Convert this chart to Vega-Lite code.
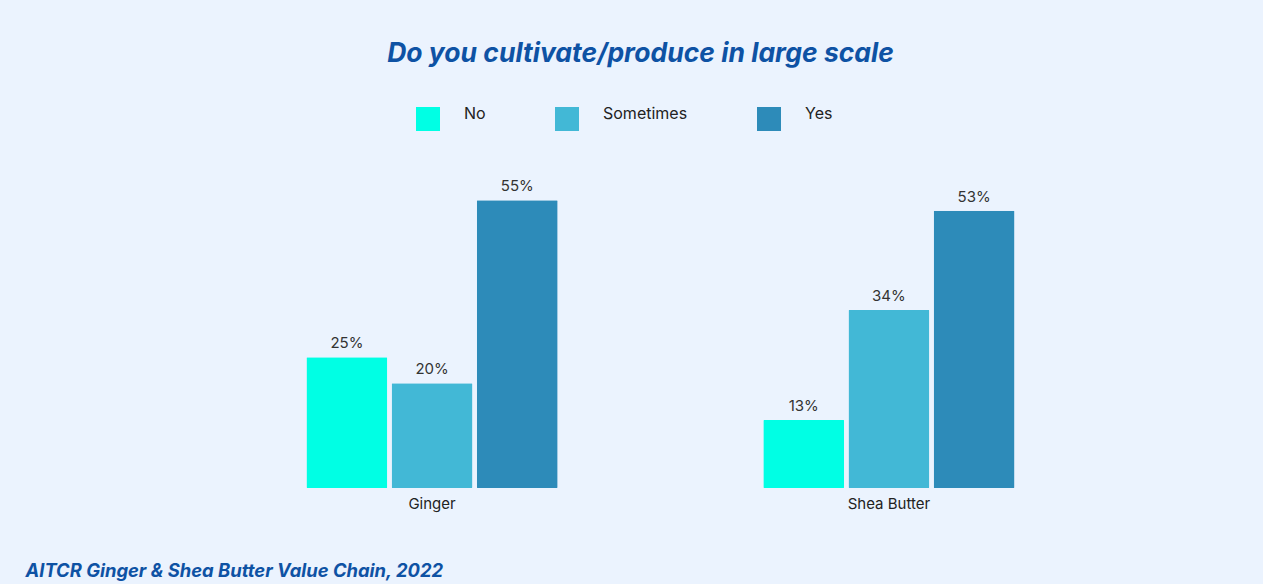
{
  "$schema": "https://vega.github.io/schema/vega-lite/v6.json",
  "width": 1165,
  "height": 314,
  "autosize": {"type": "none"},
  "padding": {"left": 78, "top": 174, "right": 20, "bottom": 96},
  "background": "#EBF3FE",
  "title": {
    "text": "Do you cultivate/produce in large scale",
    "font": "Inter",
    "fontSize": 26.5,
    "fontWeight": "bold",
    "fontStyle": "italic",
    "color": "#0E52A4",
    "anchor": "middle",
    "dx": -20,
    "offset": 40
  },
  "data": {
    "values": [
      {"crop": "Ginger", "answer": "No", "pct": 25, "label": "25%"},
      {"crop": "Ginger", "answer": "Sometimes", "pct": 20, "label": "20%"},
      {"crop": "Ginger", "answer": "Yes", "pct": 55, "label": "55%"},
      {"crop": "Shea Butter", "answer": "No", "pct": 13, "label": "13%"},
      {"crop": "Shea Butter", "answer": "Sometimes", "pct": 34, "label": "34%"},
      {"crop": "Shea Butter", "answer": "Yes", "pct": 53, "label": "53%"}
    ]
  },
  "encoding": {
    "x": {
      "field": "crop",
      "type": "nominal",
      "scale": {"paddingInner": 0.45, "paddingOuter": 0.5},
      "axis": {
        "title": "AITCR Ginger & Shea Butter Value Chain, 2022",
        "titleFont": "Inter",
        "titleFontSize": 18.4,
        "titleFontWeight": "bold",
        "titleFontStyle": "italic",
        "titleColor": "#0E52A4",
        "titleAnchor": "start",
        "titleAlign": "left",
        "titleBaseline": "middle",
        "titleX": -53,
        "titleY": 82,
        "labelAngle": 0,
        "labelFont": "Inter",
        "labelFontSize": 15,
        "labelColor": "#222222",
        "labelPadding": 8,
        "domain": false,
        "ticks": false
      }
    },
    "xOffset": {"field": "answer", "type": "nominal", "scale": {"paddingInner": 0.05}},
    "y": {
      "field": "pct",
      "type": "quantitative",
      "scale": {"domain": [0, 60]},
      "axis": null
    }
  },
  "layer": [
    {
      "mark": {"type": "bar", "cornerRadius": 1},
      "encoding": {
        "color": {
          "field": "answer",
          "type": "nominal",
          "scale": {"domain": ["No", "Sometimes", "Yes"], "range": ["#00FFE4", "#42B8D6", "#2D8BB9"]},
          "legend": {
            "title": null,
            "orient": "none",
            "direction": "horizontal",
            "legendX": 338,
            "legendY": -67,
            "symbolType": "square",
            "symbolSize": 576,
            "symbolStrokeWidth": 0,
            "symbolOpacity": 1,
            "labelFont": "Inter",
            "labelFontSize": 16,
            "labelColor": "#222222",
            "labelOffset": 24,
            "columnPadding": 69,
            "labelBaseline": "alphabetic"
          }
        }
      }
    },
    {
      "mark": {"type": "text", "baseline": "alphabetic", "dy": -9, "font": "Inter", "fontSize": 15, "color": "#333333"},
      "encoding": {
        "text": {"field": "label", "type": "nominal"},
        "detail": {"field": "answer"}
      }
    }
  ],
  "config": {"view": {"stroke": null}}
}
